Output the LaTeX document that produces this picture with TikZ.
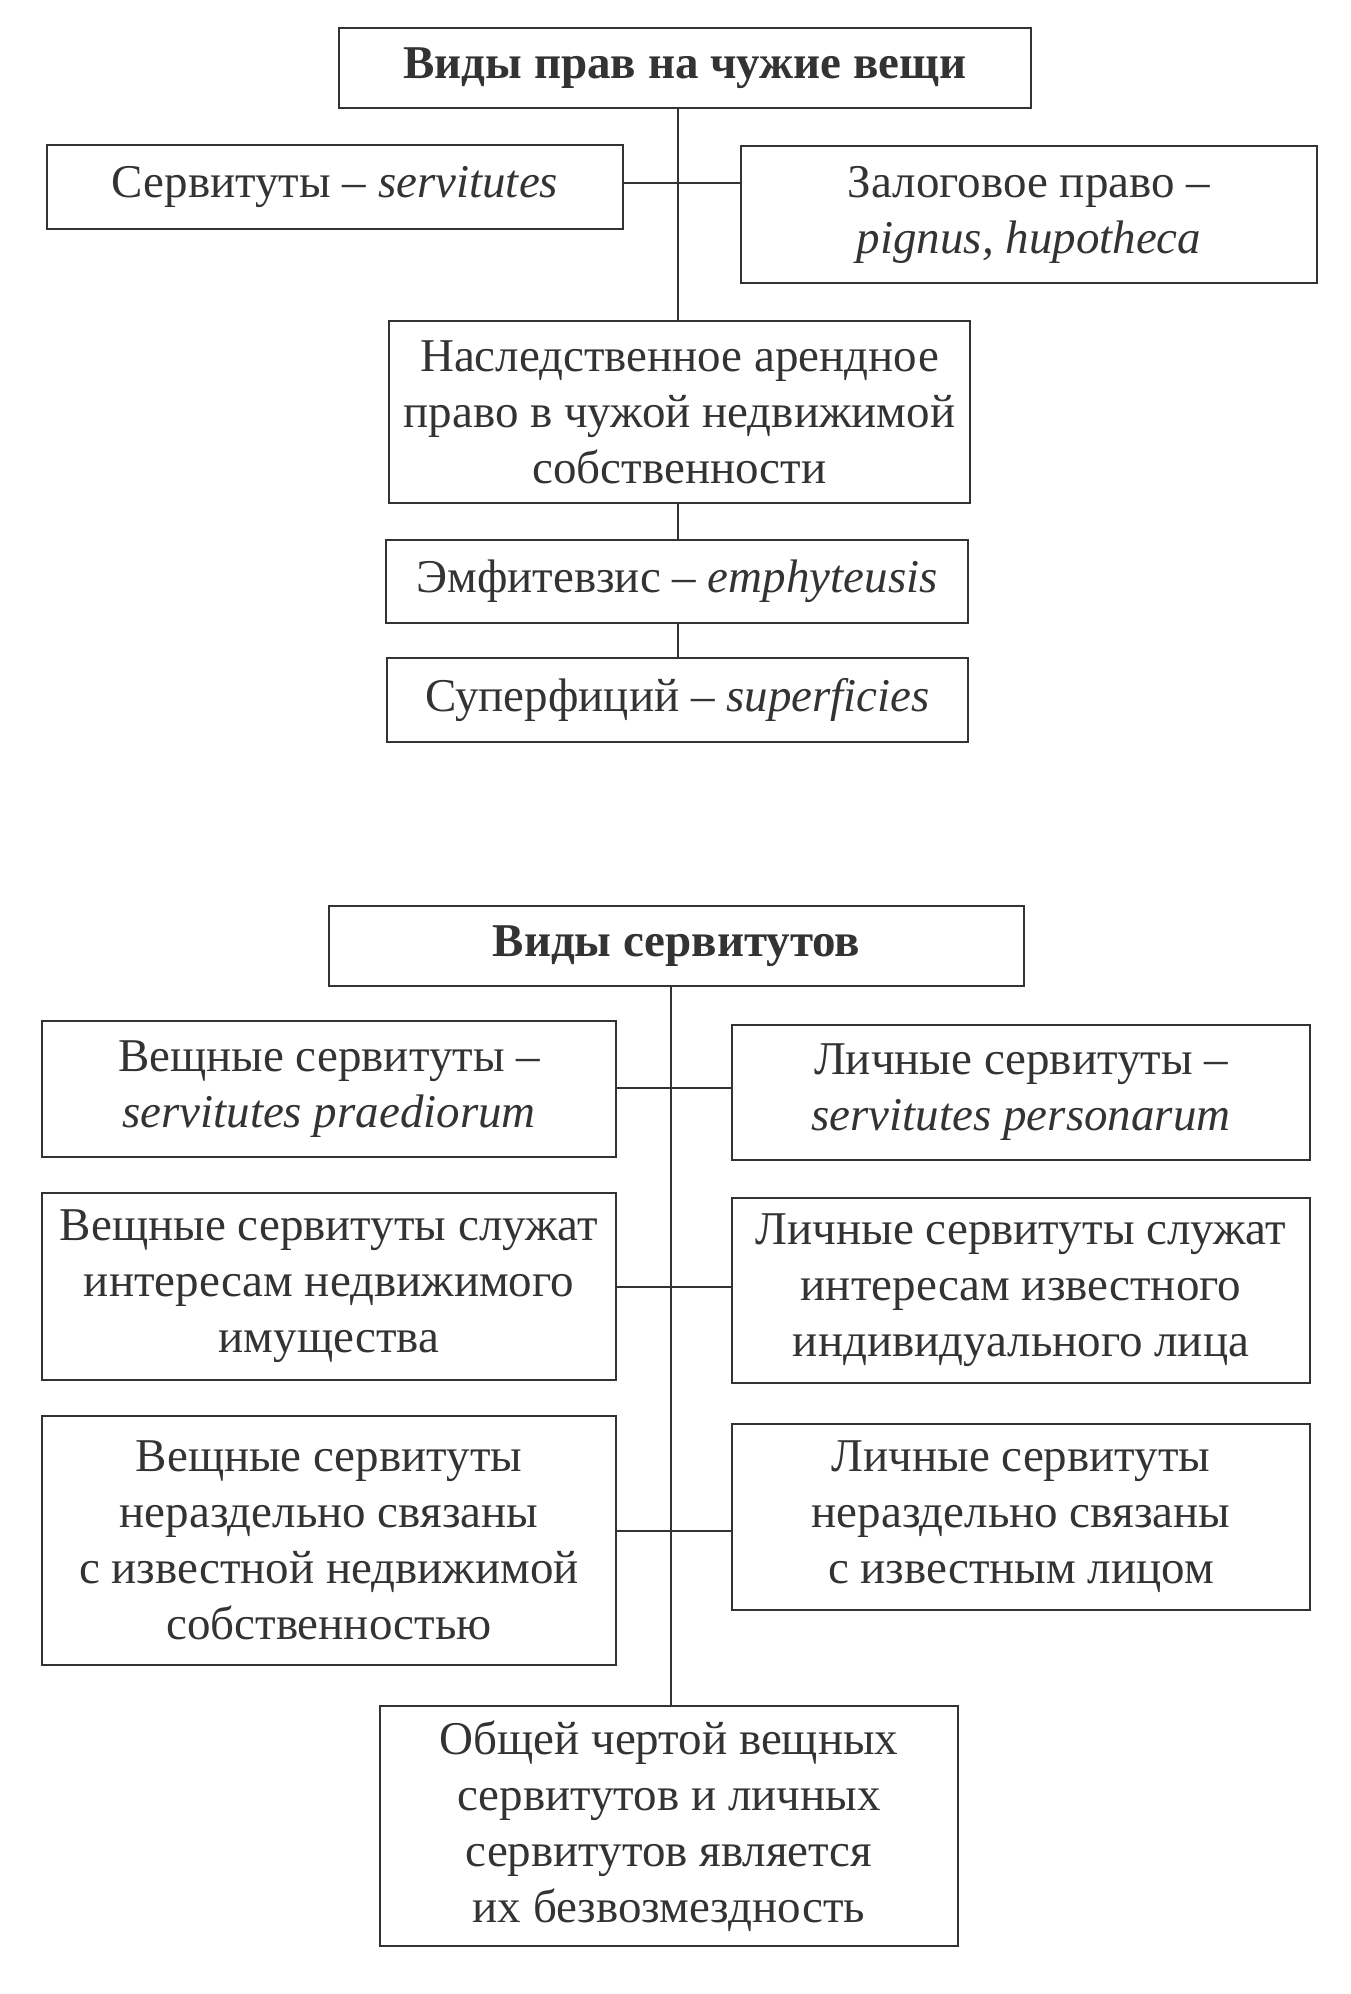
\documentclass[tikz,border=0pt]{standalone}
\usepackage{fontspec}
\setmainfont{Liberation Serif}
\begin{document}
\begin{tikzpicture}[x=1pt,y=-1pt,
  box/.style={draw=black!80, line width=1.6pt, align=center, inner sep=0pt,
    text=black!80, font=\fontsize{47}{56}\selectfont},
  conn/.style={draw=black!80, line width=1.6pt}]
\useasboundingbox (0,0) rectangle (1350,1994);
\node[box, minimum width=692, minimum height=80, font=\fontsize{47}{56}\selectfont\bfseries] (t1) at (685,68) {Виды прав на чужие вещи};
\node[box, minimum width=576, minimum height=84] (serv) at (335,187) {Сервитуты – \textit{servitutes}};
\node[box, minimum width=576, minimum height=137] (zal) at (1029,214.5) {Залоговое право –\\\textit{pignus, hupotheca}};
\node[box, minimum width=581, minimum height=182] (nas) at (679.5,412) {Наследственное арендное\\право в чужой недвижимой\\собственности};
\node[box, minimum width=582, minimum height=83] (emf) at (677,581.5) {Эмфитевзис – \textit{emphyteusis}};
\node[box, minimum width=581, minimum height=84] (sup) at (677.5,700) {Суперфиций – \textit{superficies}};
\coordinate (v1) at (678,0);
\coordinate (h1) at (0,183);
\draw[conn] (t1.south -| v1) -- (nas.north -| v1);
\draw[conn] (serv.east |- h1) -- (zal.west |- h1);
\draw[conn] (nas.south -| v1) -- (emf.north -| v1);
\draw[conn] (emf.south -| v1) -- (sup.north -| v1);

\node[box, minimum width=695, minimum height=80, font=\fontsize{47}{56}\selectfont\bfseries] (t2) at (676.5,946) {Виды сервитутов};
\node[box, minimum width=574, minimum height=136] (l1) at (329,1089) {Вещные сервитуты –\\\textit{servitutes praediorum}};
\node[box, minimum width=578, minimum height=135] (r1) at (1021,1092.5) {Личные сервитуты –\\\textit{servitutes personarum}};
\node[box, minimum width=574, minimum height=187] (l2) at (329,1286.5) {Вещные сервитуты служат\\интересам недвижимого\\имущества};
\node[box, minimum width=578, minimum height=185] (r2) at (1021,1290.5) {Личные сервитуты служат\\интересам известного\\индивидуального лица};
\node[box, minimum width=574, minimum height=249] (l3) at (329,1540.5) {Вещные сервитуты\\нераздельно связаны\\с известной недвижимой\\собственностью};
\node[box, minimum width=578, minimum height=186] (r3) at (1021,1517) {Личные сервитуты\\нераздельно связаны\\с известным лицом};
\node[box, minimum width=578, minimum height=240] (bot) at (669,1826) {Общей чертой вещных\\сервитутов и личных\\сервитутов является\\их безвозмездность};
\coordinate (v2) at (671,0);
\coordinate (h2) at (0,1088);
\coordinate (h3) at (0,1287);
\coordinate (h4) at (0,1531);
\draw[conn] (t2.south -| v2) -- (bot.north -| v2);
\draw[conn] (l1.east |- h2) -- (r1.west |- h2);
\draw[conn] (l2.east |- h3) -- (r2.west |- h3);
\draw[conn] (l3.east |- h4) -- (r3.west |- h4);
\end{tikzpicture}
\end{document}
